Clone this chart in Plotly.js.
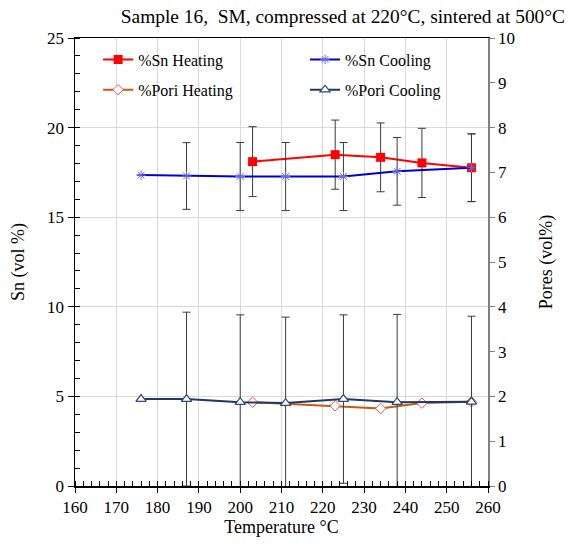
<!DOCTYPE html>
<html>
<head>
<meta charset="utf-8">
<script src="https://cdn.plot.ly/plotly-3.0.1.min.js"></script>
<style>html,body{margin:0;padding:0;background:#fff;}#chart{width:573px;height:545px;}</style>
</head>
<body>
<div id="chart"></div>
<script>
// Heating points
const heatTemp = [203, 223, 234, 244, 256];
const snHeat = [18.10, 18.49, 18.34, 18.03, 17.76];
const snHeatErr = [1.95, 1.93, 1.92, 1.93, 1.89];
const poreHeat = [1.87, 1.79, 1.73, 1.85, 1.88];

// Cooling points
const coolTemp = [176, 187, 200, 211, 225, 238, 256];
const snCool = [17.35, 17.30, 17.27, 17.27, 17.27, 17.56, 17.76];
const snCoolErr = [null, 1.86, 1.90, 1.90, 1.90, 1.89, 1.89];
const poreCool = [1.94, 1.94, 1.87, 1.85, 1.94, 1.87, 1.88];
const poreCoolErr = [null, 1.94, 1.95, 1.92, 1.88, 1.96, 1.91];

const titleText = 'Sample 16,  SM, compressed at 220°C, sintered at 500°C';
const xTitle = 'Temperature °C';
const yTitle = 'Sn (vol %)';
const y2Title = 'Pores (vol%)';

const FONT = '"Liberation Serif", "Times New Roman", serif';
const errStyle = {type: 'data', visible: true, color: '#3a3a3a', thickness: 1, width: 4};

const traces = [
  {
    x: heatTemp, y: snHeat, name: '%Sn Heating', type: 'scatter', mode: 'lines+markers',
    line: {color: '#FF0000', width: 2},
    marker: {symbol: 'square', size: 9, color: '#FF0000'},
    error_y: Object.assign({array: snHeatErr}, errStyle),
    legend: 'legend', legendgroup: 'a'
  },
  {
    x: coolTemp, y: snCool, name: '%Sn Cooling', type: 'scatter', mode: 'lines+markers',
    line: {color: '#0000CC', width: 2},
    marker: {symbol: 'asterisk-open', size: 8, color: '#6B6BE8', line: {color: '#6B6BE8', width: 1}},
    error_y: Object.assign({array: snCoolErr}, errStyle),
    legend: 'legend2', legendgroup: 'b'
  },
  {
    x: heatTemp, y: poreHeat, name: '%Pori Heating', type: 'scatter', mode: 'lines+markers',
    yaxis: 'y2',
    line: {color: '#C55A11', width: 2},
    marker: {symbol: 'diamond', size: 8, color: '#FFFFFF', line: {color: '#FF5050', width: 1}},
    legend: 'legend', legendgroup: 'c'
  },
  {
    x: coolTemp, y: poreCool, name: '%Pori Cooling', type: 'scatter', mode: 'lines+markers',
    yaxis: 'y2',
    line: {color: '#1F3864', width: 2},
    marker: {symbol: 'triangle-up', size: 9, color: '#FFFFFF', line: {color: '#2F4A7A', width: 1.2}},
    error_y: Object.assign({array: poreCoolErr}, errStyle),
    legend: 'legend2', legendgroup: 'd'
  }
];

const legendCommon = {
  orientation: 'v', bgcolor: 'rgba(0,0,0,0)', borderwidth: 0,
  font: {family: FONT, size: 16, color: '#000'},
  xanchor: 'left', yanchor: 'top', tracegroupgap: 6.5, itemwidth: 30
};

const layout = {
  width: 573, height: 545,
  margin: {l: 75, r: 85, t: 38, b: 59, pad: 0},
  paper_bgcolor: '#FFFFFF', plot_bgcolor: '#FFFFFF',
  font: {family: FONT, size: 16, color: '#000'},
  showlegend: true,
  title: {
    text: titleText, font: {family: FONT, size: 19.4, color: '#000'},
    xref: 'container', x: 565 / 573, xanchor: 'right',
    yref: 'container', y: 1 - 16 / 545, yanchor: 'middle'
  },
  xaxis: {
    range: [160, 260], dtick: 10, tick0: 160,
    showgrid: true, gridcolor: '#D9D9D9', gridwidth: 1,
    zeroline: false,
    showline: true, linecolor: '#000', linewidth: 1.5, mirror: true,
    ticks: 'outside', ticklen: 5, tickcolor: '#000',
    minor: {dtick: 2, ticks: 'inside', ticklen: 5, tickcolor: '#000', showgrid: false},
    tickfont: {family: FONT, size: 17, color: '#000'},
    title: {text: xTitle, font: {family: FONT, size: 18, color: '#000'}, standoff: 4}
  },
  yaxis: {
    range: [0, 25], dtick: 5, tick0: 0,
    showgrid: true, gridcolor: '#D9D9D9', gridwidth: 1,
    zeroline: false,
    showline: true, linecolor: '#000', linewidth: 1.5,
    ticks: 'outside', ticklen: 6, tickcolor: '#000',
    minor: {dtick: 1, ticks: 'inside', ticklen: 5, tickcolor: '#000', showgrid: false},
    tickfont: {family: FONT, size: 17, color: '#000'},
    title: {text: yTitle, font: {family: FONT, size: 18, color: '#000'}, standoff: 18}
  },
  yaxis2: {
    range: [0, 10], dtick: 1, tick0: 0,
    overlaying: 'y', side: 'right',
    showgrid: false, zeroline: false,
    showline: true, linecolor: '#808080', linewidth: 1.5,
    ticks: 'outside', ticklen: 5, tickcolor: '#808080',
    tickfont: {family: FONT, size: 17, color: '#000'},
    title: {text: y2Title, font: {family: FONT, size: 18, color: '#000'}, standoff: 25}
  },
  legend: Object.assign({x: 0.056, y: 0.99}, legendCommon),
  legend2: Object.assign({x: 0.557, y: 0.99}, legendCommon)
};

Plotly.newPlot('chart', traces, layout, {displayModeBar: false, staticPlot: true});
</script>
</body>
</html>
